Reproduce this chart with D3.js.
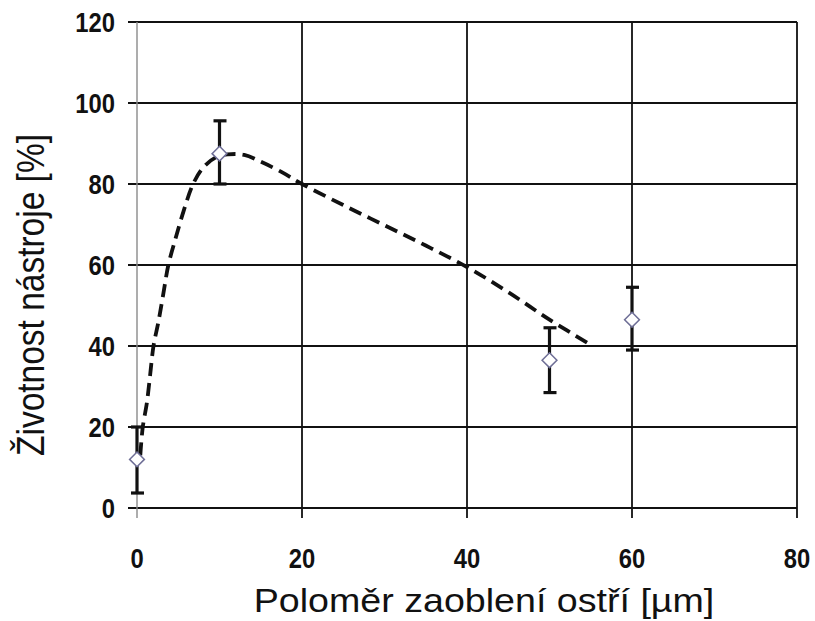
<!DOCTYPE html>
<html>
<head>
<meta charset="utf-8">
<script src="https://cdn.jsdelivr.net/npm/d3@7/dist/d3.min.js"></script>
<style>
  html, body { margin: 0; padding: 0; background: #fff; }
  svg { display: block; }
</style>
</head>
<body>
<svg id="chart" width="815" height="621"></svg>
<script>
// Measured tool life vs. edge rounding radius
const radius = [0, 10, 50, 60];              // µm
const life = [12, 87.5, 36.5, 46.5];         // %
const lifeLow = [3.7, 80, 28.5, 39];
const lifeHigh = [20, 95.6, 44.5, 54.5];

// Fitted trend (dashed)
const fitX = [0.4, 0.7, 1.2, 1.6, 2.0, 2.6, 3.2, 3.8, 4.6, 5.6, 6.8, 8, 9.5, 11, 13, 15, 17.5, 20, 25, 30, 35, 40, 45, 50, 55];
const fitY = [13, 20, 26, 33, 40, 46, 53, 60, 66, 73, 80, 84, 86.5, 87.3, 87.2, 85.5, 83, 80, 74.8, 69.8, 64.8, 59.5, 53.3, 46.5, 40.3];

const xTicks = [0, 20, 40, 60, 80];
const yTicks = [0, 20, 40, 60, 80, 100, 120];

const xTitle = "Poloměr zaoblení ostří [µm]";
const yTitle = "Životnost nástroje [%]";

const svg = d3.select("#chart");
const x = d3.scaleLinear().domain([0, 80]).range([137, 797]);
const y = d3.scaleLinear().domain([0, 120]).range([508, 22]);

const ink = "#111";
const font = "'Liberation Sans', Arial, sans-serif";
const wide = 1.14;   // horizontal stretch of the title lettering

// Grid: horizontal lines (with outer tick stubs)
svg.append("g").selectAll("line").data(yTicks).join("line")
  .attr("x1", x(0) - 9).attr("x2", x(80))
  .attr("y1", d => y(d)).attr("y2", d => y(d))
  .attr("stroke", ink).attr("stroke-width", 1.8);

// Grid: vertical lines (x = 0 is the grey value axis)
svg.append("g").selectAll("line").data(xTicks).join("line")
  .attr("x1", d => x(d)).attr("x2", d => x(d))
  .attr("y1", y(120)).attr("y2", y(0) + 10)
  .attr("stroke", d => d === 0 ? "#8a8a8a" : ink)
  .attr("stroke-width", d => d === 0 ? 1.4 : 1.8);

// Tick labels (bold, narrow)
const cond = 0.85;
svg.append("g").selectAll("text").data(yTicks).join("text")
  .attr("transform", d => `translate(115,${y(d)}) scale(${cond},1)`)
  .attr("text-anchor", "end").attr("dy", "0.36em")
  .style("font", `bold 28px ${font}`).attr("fill", ink)
  .text(d => d);

svg.append("g").selectAll("text").data(xTicks).join("text")
  .attr("transform", d => `translate(${x(d)},568) scale(${cond},1)`)
  .attr("text-anchor", "middle")
  .style("font", `bold 28px ${font}`).attr("fill", ink)
  .text(d => d);

// Axis titles
svg.append("text")
  .attr("transform", `translate(484,612) scale(${wide},1)`)
  .attr("text-anchor", "middle")
  .style("font", `33px ${font}`).attr("fill", ink)
  .text(xTitle);

svg.append("text")
  .attr("transform", `translate(44,295) scale(${wide},1) rotate(-90)`)
  .attr("text-anchor", "middle")
  .style("font", `33.5px ${font}`).attr("fill", ink)
  .text(yTitle);

// Trend curve
const fit = fitX.map((v, i) => [v, fitY[i]]);
svg.append("path")
  .datum(fit)
  .attr("d", d3.line().x(d => x(d[0])).y(d => y(d[1])).curve(d3.curveCatmullRom.alpha(0.5)))
  .attr("fill", "none").attr("stroke", ink)
  .attr("stroke-width", 3.8).attr("stroke-dasharray", "13,7");

// Error bars
const pts = radius.map((r, i) => ({ r, v: life[i], lo: lifeLow[i], hi: lifeHigh[i] }));
const eb = svg.append("g").attr("stroke", ink).attr("stroke-width", 3.2);
eb.selectAll("line.v").data(pts).join("line").attr("class", "v")
  .attr("x1", d => x(d.r)).attr("x2", d => x(d.r))
  .attr("y1", d => y(d.lo)).attr("y2", d => y(d.hi));
eb.selectAll("line.lo").data(pts).join("line").attr("class", "lo")
  .attr("x1", d => x(d.r) - 6).attr("x2", d => x(d.r) + 7)
  .attr("y1", d => y(d.lo)).attr("y2", d => y(d.lo));
eb.selectAll("line.hi").data(pts).join("line").attr("class", "hi")
  .attr("x1", d => x(d.r) - 6).attr("x2", d => x(d.r) + 7)
  .attr("y1", d => y(d.hi)).attr("y2", d => y(d.hi));

// Diamond markers
const diamond = d3.symbol().type(d3.symbolDiamond2).size(140);
svg.append("g").selectAll("path").data(pts).join("path")
  .attr("transform", d => `translate(${x(d.r)},${y(d.v)})`)
  .attr("d", diamond)
  .attr("fill", "#fff").attr("stroke", "#6e6e96").attr("stroke-width", 1.5);
</script>
</body>
</html>
